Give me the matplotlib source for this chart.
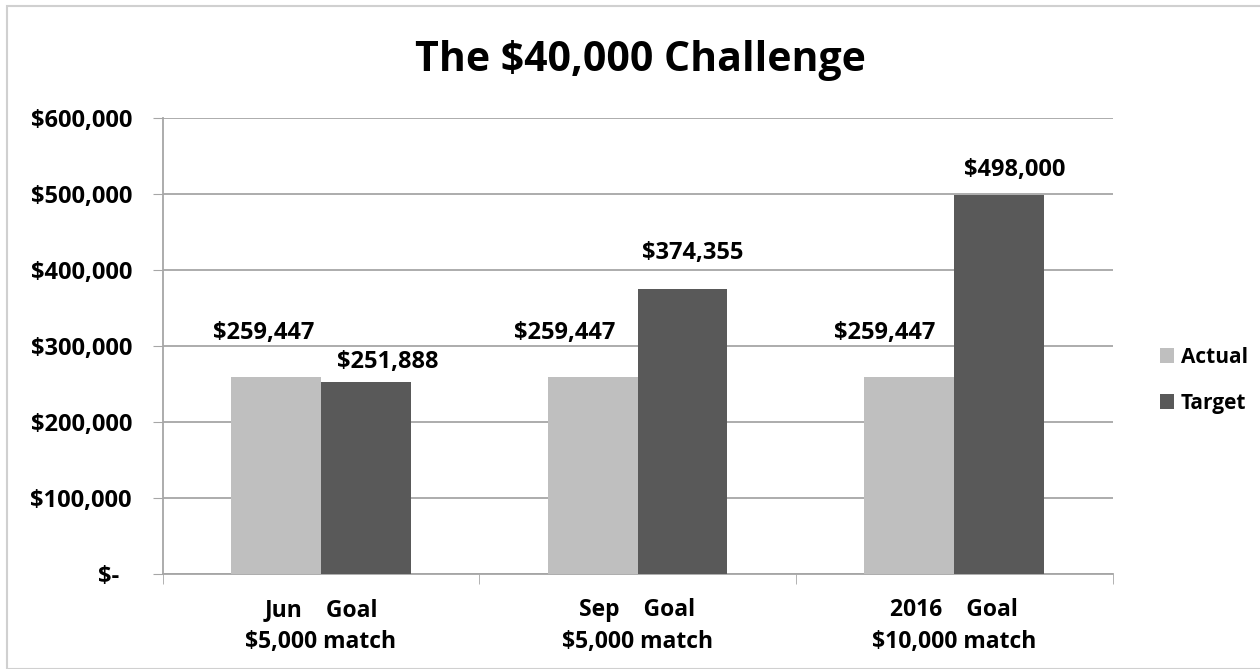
import matplotlib
matplotlib.use("Agg")
import matplotlib.pyplot as plt
import numpy as np
from matplotlib.patches import Rectangle
from matplotlib.ticker import FuncFormatter

plt.rcParams['font.family'] = ['Open Sans', 'DejaVu Sans']
plt.rcParams['font.weight'] = 'bold'

# data
categories = ["Jun    Goal\n$5,000 match", "Sep    Goal\n$5,000 match", "2016    Goal\n$10,000 match"]
actual = [259447, 259447, 259447]
target = [251888, 374355, 498000]
series_names = ["Actual", "Target"]
y_ticks = [0, 100000, 200000, 300000, 400000, 500000, 600000]

# label nudges (pixels) to mimic the hand-placed labels
actual_off = [(-12, 32), (-28, 32), (-25, 32)]
target_off = [(22, 8), (10, 24), (15, 13)]

fig = plt.figure(figsize=(12.6, 6.69), dpi=100)
ax = fig.add_axes([0.129, 0.142, 0.754, 0.682])

x = np.arange(len(categories))
w = 0.284
b1 = ax.bar(x - w/2, actual, w, color='#bfbfbf', label=series_names[0], zorder=3)
b2 = ax.bar(x + w/2, target, w, color='#595959', label=series_names[1], zorder=3)

for rect, v, off in zip(b1, actual, actual_off):
    ax.annotate("${:,}".format(v), (rect.get_x() + rect.get_width()/2, v),
                xytext=off, textcoords='offset pixels', ha='center', va='bottom',
                fontsize=17, fontweight='bold')
for rect, v, off in zip(b2, target, target_off):
    ax.annotate("${:,}".format(v), (rect.get_x() + rect.get_width()/2, v),
                xytext=off, textcoords='offset pixels', ha='center', va='bottom',
                fontsize=17, fontweight='bold')

ax.set_xlim(-0.5, 2.5)
ax.set_ylim(0, 600000)
ax.set_yticks(y_ticks)
ax.yaxis.set_major_formatter(FuncFormatter(lambda v, p: "$-  " if v == 0 else "${:,.0f}".format(v)))
ax.set_xticks(x)
ax.set_xticklabels(categories, fontsize=16.5, fontweight='bold', linespacing=1.45)
ax.set_xticks([-0.5, 0.5, 1.5, 2.5], minor=True)
ax.tick_params(axis='x', which='major', length=0, pad=17)
ax.tick_params(axis='x', which='minor', length=7, color='#a6a6a6', direction='out')
ax.tick_params(axis='y', length=7, color='#a6a6a6', labelsize=17, pad=15)
for lab in ax.get_yticklabels():
    lab.set_fontweight('bold')

ax.grid(axis='y', color='#a6a6a6', linewidth=1.3, zorder=0)
for s in ['top', 'right']:
    ax.spines[s].set_visible(False)
ax.spines['left'].set_color('#a6a6a6')
ax.spines['bottom'].set_color('#a6a6a6')
ax.spines['left'].set_linewidth(1.3)
ax.spines['bottom'].set_linewidth(1.3)

fig.text(0.508, 0.91, "The $40,000 Challenge", ha='center', va='center',
         fontsize=29.5, fontweight='bold')

ax.legend(loc='center left', bbox_to_anchor=(1.03, 0.425), frameon=False,
          handlelength=0.7, handleheight=0.7, handletextpad=0.3,
          labelspacing=1.2, prop={'weight': 'bold', 'size': 15})

fig.patches.append(Rectangle((7/1260, 0), 1.2, 1 - 6/669, transform=fig.transFigure,
                             fill=False, edgecolor='#d0d0d0', linewidth=1.5))

fig.savefig("out.png", dpi=100)
